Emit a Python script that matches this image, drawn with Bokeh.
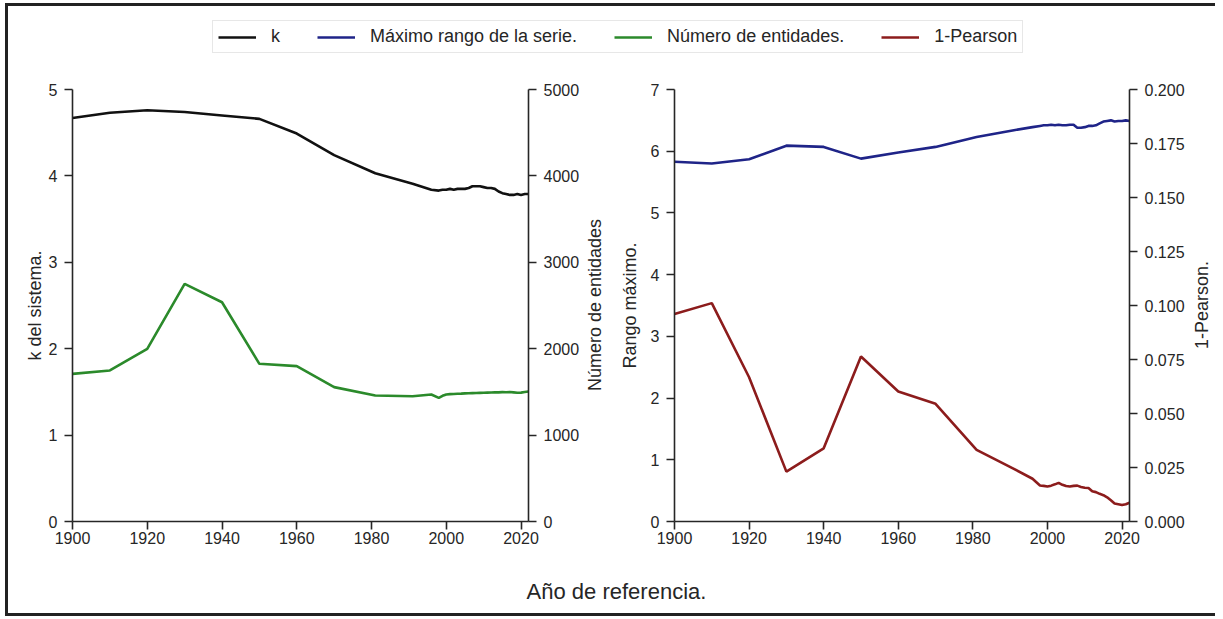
import math
from bokeh.plotting import figure
from bokeh.layouts import column, row
from bokeh.models import Range1d, LinearAxis, FixedTicker, Legend, LegendItem, NumeralTickFormatter
from bokeh.core.properties import value
from bokeh.embed import file_html
from bokeh.resources import INLINE

years = [1900, 1910, 1920, 1930, 1940, 1950, 1960, 1970, 1981, 1991, 1996,
         1998, 1999, 2000, 2001, 2002, 2003, 2004, 2005, 2006, 2007, 2008,
         2009, 2010, 2011, 2012, 2013, 2014, 2015, 2016, 2017, 2018, 2019,
         2020, 2021, 2022]

k_sistema = [4.67, 4.73, 4.76, 4.74, 4.70, 4.66, 4.49, 4.24, 4.03, 3.91, 3.84,
             3.83, 3.84, 3.84, 3.85, 3.84, 3.85, 3.85, 3.85, 3.86, 3.88, 3.88,
             3.88, 3.87, 3.86, 3.86, 3.85, 3.82, 3.80, 3.79, 3.78, 3.78, 3.79,
             3.78, 3.79, 3.79]

num_entidades = [1709, 1748, 1999, 2751, 2538, 1825, 1798, 1555, 1458, 1450, 1470,
                 1431, 1455, 1470, 1474, 1476, 1478, 1480, 1483, 1484, 1486, 1487,
                 1489, 1490, 1492, 1493, 1494, 1495, 1497, 1496, 1498, 1494, 1490,
                 1492, 1498, 1504]

rango_max = [5.83, 5.80, 5.87, 6.09, 6.07, 5.88, 5.98, 6.07, 6.23, 6.34, 6.39,
             6.41, 6.42, 6.42, 6.43, 6.42, 6.43, 6.42, 6.42, 6.43, 6.43, 6.38,
             6.38, 6.39, 6.41, 6.41, 6.42, 6.45, 6.48, 6.49, 6.50, 6.48, 6.49,
             6.49, 6.50, 6.49]

uno_pearson = [0.0961, 0.1011, 0.0668, 0.0231, 0.0339, 0.0764, 0.0602, 0.0545, 0.0332, 0.0244, 0.0198,
               0.0167, 0.0165, 0.0162, 0.0166, 0.0172, 0.0179, 0.0170, 0.0164, 0.0162, 0.0165, 0.0166,
               0.0160, 0.0156, 0.0155, 0.0140, 0.0136, 0.0128, 0.0122, 0.0112, 0.0098, 0.0083, 0.0080,
               0.0076, 0.0080, 0.0087]

x_ticks = [1900, 1920, 1940, 1960, 1980, 2000, 2020]
legend_labels = ["k", "Máximo rango de la serie.", "Número de entidades.", "1-Pearson"]
axis_titles = ["k del sistema.", "Número de entidades", "Rango máximo.", "1-Pearson."]
x_title = ["Año de referencia."]

X0, X1 = 1900, 2022
FONT = "Liberation Sans"
INK = "#262626"
C_K = "#111111"
C_BLUE = "#1f2488"
C_GREEN = "#2b8a2b"
C_RED = "#8c1c1c"
LW = 2.6
ROW_H = 493
MB_TOP, MB_BOT = 19, 42


def style_axis(ax, xaxis=False):
    ax.axis_line_color = INK
    ax.axis_line_width = 1.6
    ax.major_tick_line_color = INK
    ax.major_tick_line_width = 1.6
    ax.major_tick_out = 8
    ax.major_tick_in = 0
    ax.minor_tick_line_color = None
    ax.major_label_text_font = FONT
    ax.major_label_text_font_size = "16px"
    ax.major_label_text_color = INK
    ax.major_label_standoff = 2 if xaxis else 7
    ax.axis_label_text_font = FONT
    ax.axis_label_text_font_size = "18px"
    ax.axis_label_text_font_style = "normal"
    ax.axis_label_text_color = INK
    ax.axis_label_standoff = 8


def base_fig(width, mbl, mbr, y_end):
    p = figure(width=width, height=ROW_H, x_range=Range1d(X0, X1), y_range=Range1d(0, y_end),
               toolbar_location=None, output_backend="svg",
               min_border_left=mbl, min_border_right=mbr, min_border_top=MB_TOP, min_border_bottom=MB_BOT)
    p.outline_line_color = None
    p.xgrid.visible = False
    p.ygrid.visible = False
    p.xaxis.ticker = FixedTicker(ticks=x_ticks)
    style_axis(p.xaxis[0], xaxis=True)
    style_axis(p.yaxis[0])
    return p


def blank_fig(width, height):
    f = figure(width=width, height=height, x_range=Range1d(0, width), y_range=Range1d(0, height),
               toolbar_location=None, output_backend="svg", min_border=0,
               x_axis_location=None, y_axis_location=None)
    f.grid.visible = False
    f.outline_line_color = None
    return f


def title_strip(text, width, x_center):
    # rotated axis title (reads bottom-to-top) for a right-hand axis
    f = blank_fig(width, ROW_H)
    y_mid = MB_BOT + (ROW_H - MB_TOP - MB_BOT) / 2 - 11
    f.text(x=[x_center], y=[y_mid], text=[text], angle=math.pi / 2,
           text_align="center", text_baseline="middle",
           text_font=value(FONT), text_font_size="18px", text_color=INK)
    return f


# Left panel
p1 = base_fig(576, 64, 56, 5)
p1.yaxis[0].ticker = FixedTicker(ticks=[0, 1, 2, 3, 4, 5])
p1.yaxis[0].axis_label = axis_titles[0]
p1.yaxis[0].axis_label_standoff = 1
p1.extra_y_ranges = {"ent": Range1d(0, 5000)}
ax_r1 = LinearAxis(y_range_name="ent",
                   ticker=FixedTicker(ticks=[0, 1000, 2000, 3000, 4000, 5000]))
style_axis(ax_r1)
p1.add_layout(ax_r1, "right")
p1.line(years, k_sistema, line_color=C_K, line_width=LW)
p1.line(years, num_entidades, line_color=C_GREEN, line_width=LW, y_range_name="ent")
t1 = title_strip(axis_titles[1], 28, 10)

# Right panel
p2 = base_fig(581, 62, 64, 7)
p2.yaxis[0].ticker = FixedTicker(ticks=[0, 1, 2, 3, 4, 5, 6, 7])
p2.yaxis[0].axis_label = axis_titles[2]
p2.extra_y_ranges = {"p": Range1d(0, 0.2)}
ax_r2 = LinearAxis(y_range_name="p",
                   ticker=FixedTicker(ticks=[0, 0.025, 0.05, 0.075, 0.1, 0.125, 0.15, 0.175, 0.2]),
                   formatter=NumeralTickFormatter(format="0.000"))
style_axis(ax_r2)
p2.add_layout(ax_r2, "right")
p2.line(years, rango_max, line_color=C_BLUE, line_width=LW)
p2.line(years, uno_pearson, line_color=C_RED, line_width=LW, y_range_name="p")
t2 = title_strip(axis_titles[3], 22, 8)

# Legend strip (proxy renderers sit outside the visible range)
pl = blank_fig(1207, 64)
items = []
for lab, col in zip(legend_labels, [C_K, C_BLUE, C_GREEN, C_RED]):
    r = pl.line(x=[5000, 5001], y=[5000, 5000], line_color=col, line_width=LW)
    items.append(LegendItem(label=lab, renderers=[r]))
leg = Legend(items=items, orientation="horizontal", location=(204, 17))
leg.label_text_font = FONT
leg.label_text_font_size = "18px"
leg.label_text_color = INK
leg.glyph_width = 38
leg.glyph_height = 20
leg.label_width = 0
leg.label_standoff = 15
leg.spacing = 37
leg.padding = 5
leg.margin = 0
leg.border_line_color = "#cfcfcf"
leg.border_line_width = 1
pl.add_layout(leg)

# X title strip
px = blank_fig(1207, 50)
px.text(x=[608], y=[22], text=x_title, text_align="center", text_baseline="middle",
        text_font=value(FONT), text_font_size="22px", text_color=INK)

layout = column(pl, row(p1, t1, p2, t2), px,
                styles={"border-left": "3px solid #222222", "border-top": "3px solid #222222",
                        "border-bottom": "3px solid #222222",
                        "margin-left": "5px", "margin-top": "3px"})

open("out.html", "w").write(file_html(layout, INLINE))
